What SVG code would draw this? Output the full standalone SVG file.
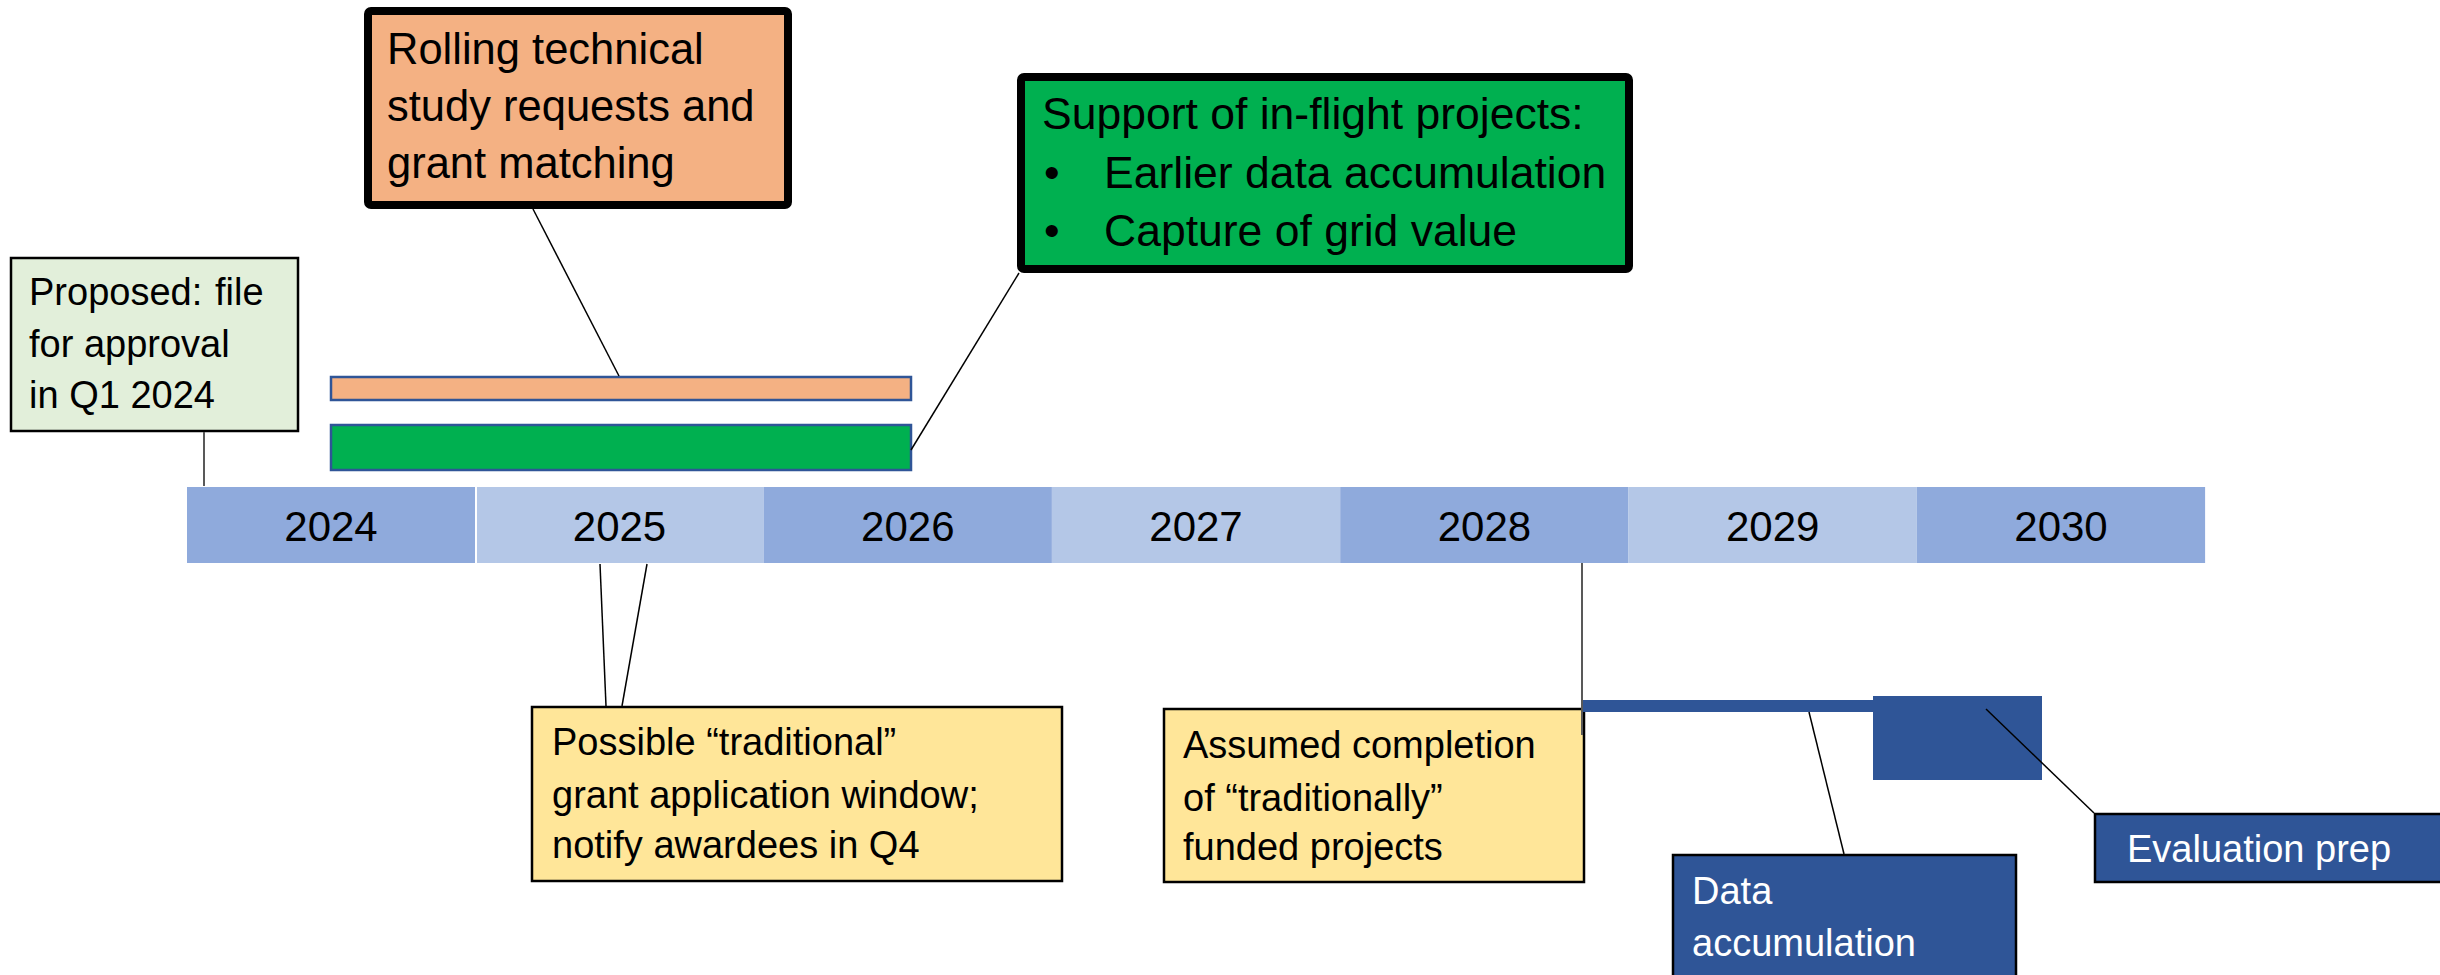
<svg xmlns="http://www.w3.org/2000/svg" width="2440" height="975" viewBox="0 0 2440 975">
<style>
text{font-family:"Liberation Sans",Arial,sans-serif;fill:#000}
.yr{font-size:42px;text-anchor:middle}
.dk{fill:#8FAADC}
.lt{fill:#B4C7E7}
.call{font-size:43.5px}
.callg{font-size:44.5px}
.note{font-size:38px}
.wt{fill:#FFFFFF}
.ln{stroke:#000;stroke-width:1.5;fill:none}
.gl{stroke:#595959;stroke-width:2;fill:none}
.bar{stroke:#2F5597;stroke-width:2.5}
</style>
<rect width="2440" height="975" fill="#FFFFFF"/>

<g id="timeline">
<rect class="dk" x="187" y="487" width="288.3" height="76"/>
<rect class="lt" x="475.3" y="487" width="288.3" height="76"/>
<rect class="dk" x="763.6" y="487" width="288.3" height="76"/>
<rect class="lt" x="1051.9" y="487" width="288.3" height="76"/>
<rect class="dk" x="1340.2" y="487" width="288.3" height="76"/>
<rect class="lt" x="1628.5" y="487" width="288.3" height="76"/>
<rect class="dk" x="1916.8" y="487" width="288.3" height="76"/>
<line x1="476" y1="487" x2="476" y2="563" stroke="#FFFFFF" stroke-width="2"/>
<text class="yr" x="331" y="541">2024</text>
<text class="yr" x="619.5" y="541">2025</text>
<text class="yr" x="907.8" y="541">2026</text>
<text class="yr" x="1196" y="541">2027</text>
<text class="yr" x="1484.4" y="541">2028</text>
<text class="yr" x="1772.7" y="541">2029</text>
<text class="yr" x="2061" y="541">2030</text>
</g>

<g id="proposed">
<rect x="11" y="258" width="287" height="173" fill="#E2EFDA" stroke="#000" stroke-width="2.5"/>
<text class="note" x="29" y="305" font-size="38.5">Proposed:</text>
<text class="note" x="215" y="305" font-size="38.5">file</text>
<text class="note" x="29" y="357" font-size="38.5">for approval</text>
<text class="note" x="29" y="408" font-size="38.5">in Q1 2024</text>
</g>

<g id="orange-bar">
<rect class="bar" x="331" y="377" width="580" height="23" fill="#F4B183"/>
</g>
<g id="green-bar">
<rect class="bar" x="331" y="425" width="580" height="45" fill="#00B050"/>
</g>

<g id="rolling">
<rect x="368" y="11" width="420" height="194" rx="3" fill="#F4B183" stroke="#000" stroke-width="8"/>
<text class="call" x="387" y="64">Rolling technical</text>
<text class="call" x="387" y="121">study requests and</text>
<text class="call" x="387" y="178">grant matching</text>
</g>

<g id="support">
<rect x="1021" y="77" width="608" height="192" rx="3" fill="#00B050" stroke="#000" stroke-width="8"/>
<text class="callg" x="1042" y="129">Support of in-flight projects:</text>
<text class="callg" x="1044" y="188">•</text>
<text class="callg" x="1104" y="188">Earlier data accumulation</text>
<text class="callg" x="1044" y="246">•</text>
<text class="callg" x="1104" y="246">Capture of grid value</text>
</g>

<g id="possible">
<rect x="532" y="707" width="530" height="174" fill="#FFE699" stroke="#000" stroke-width="2.5"/>
<text class="note" x="552" y="755">Possible “traditional”</text>
<text class="note" x="552" y="808">grant application window;</text>
<text class="note" x="552" y="858">notify awardees in Q4</text>
</g>

<g id="assumed">
<rect x="1164" y="709" width="420" height="173" fill="#FFE699" stroke="#000" stroke-width="2.5"/>
<text class="note" x="1183" y="758" font-size="38.5">Assumed completion</text>
<text class="note" x="1183" y="811" font-size="38.5">of “traditionally”</text>
<text class="note" x="1183" y="860" font-size="38.5">funded projects</text>
</g>

<g id="data-bar">
<rect x="1583" y="700" width="291" height="12" fill="#2F5597"/>
</g>
<g id="eval-block">
<rect x="1873" y="696" width="169" height="84" fill="#2F5597"/>
</g>

<g id="data-accumulation">
<rect x="1673" y="855" width="343" height="130" fill="#2F5597" stroke="#000" stroke-width="2.5"/>
<text class="note wt" x="1692" y="904">Data</text>
<text class="note wt" x="1692" y="956">accumulation</text>
</g>

<g id="evaluation-prep">
<rect x="2095" y="814" width="350" height="68" fill="#2F5597" stroke="#000" stroke-width="2.5"/>
<text class="note wt" x="2127" y="862">Evaluation prep</text>
</g>

<g id="connectors">
<line class="gl" x1="204" y1="432" x2="204" y2="486"/>
<line class="ln" x1="533" y1="209" x2="619" y2="376"/>
<line class="ln" x1="1019" y1="273" x2="911" y2="450"/>
<line class="ln" x1="600" y1="564" x2="606" y2="706"/>
<line class="ln" x1="647" y1="564" x2="622" y2="706"/>
<line class="gl" x1="1582" y1="563" x2="1582" y2="735"/>
<line class="ln" x1="1809" y1="712" x2="1844" y2="854"/>
<line class="ln" x1="1986" y1="709" x2="2094" y2="813"/>
</g>
</svg>
